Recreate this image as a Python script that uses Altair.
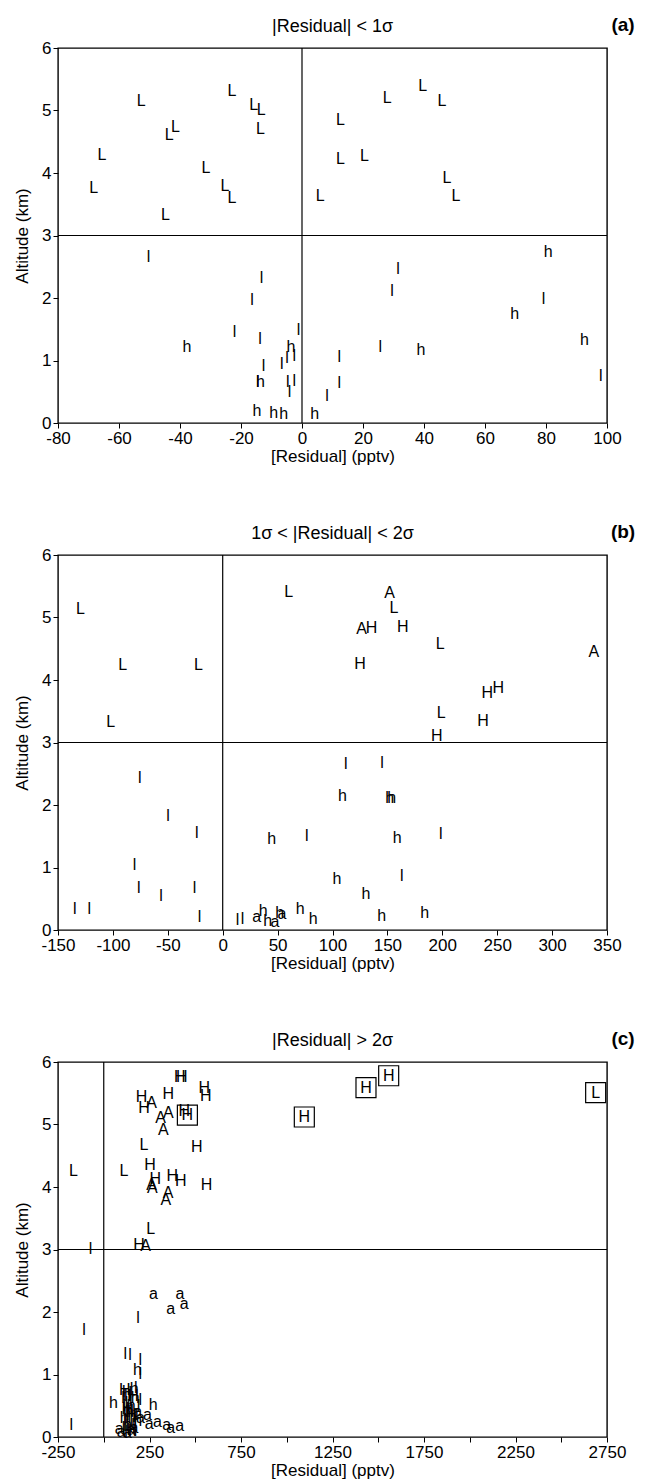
import altair as alt
import pandas as pd

FONT = "Liberation Sans"
W, H = 549, 375

# ---- panel (a): |Residual| < 1 sigma ----
a_letter = (["L"] * 22 + ["l"] * 22 + ["h"] * 11)
a_resid = [-52.7, -65.6, -68.3, -43.5, -41.5, -44.8, -31.5, -23.0, -15.8, -13.4, -13.6,
           -25.3, -23.0, 6.0, 27.9, 39.6, 45.9, 12.6, 12.6, 20.5, 47.5, 50.5,
           -50.3, -13.3, -16.4, -22.1, -13.8, -1.1, -2.5, -4.9, -6.6, -12.6, -14.5,
           -2.5, -4.7, -4.1, 8.2, 31.5, 29.5, 79.2, 25.7, 12.2, 12.2, 98.0,
           -37.7, -3.6, -13.6, -14.8, -9.3, -6.0, 4.2, 80.7, 69.7, 92.6, 39.0]
a_alt = [5.15, 4.29, 3.76, 4.61, 4.73, 3.33, 4.08, 5.32, 5.09, 5.01, 4.70,
         3.79, 3.60, 3.63, 5.20, 5.39, 5.15, 4.85, 4.23, 4.28, 3.92, 3.64,
         2.65, 2.32, 1.97, 1.46, 1.34, 1.49, 1.07, 1.04, 0.95, 0.91, 0.66,
         0.67, 0.65, 0.49, 0.43, 2.46, 2.12, 1.98, 1.21, 1.05, 0.64, 0.76,
         1.21, 1.21, 0.66, 0.19, 0.16, 0.15, 0.15, 2.74, 1.75, 1.33, 1.17]

# ---- panel (b): 1 sigma < |Residual| < 2 sigma ----
b_letter = (["L"] * 8 + ["A"] * 3 + ["H"] * 7 + ["l"] * 17 + ["h"] * 14 + ["a"] * 3)
b_resid = [-129.5, -91.0, -22.0, -102.0, 60.0, 156.0, 198.0, 199.0,
           152.0, 126.5, 338.0,
           135.6, 164.0, 125.0, 241.0, 251.0, 237.0, 195.0,
           -75.6, -49.8, -23.5, 76.5, -80.2, -76.5, -56.2, -25.6, -134.7, -121.4,
           -21.1, 13.5, 18.0, 112.0, 145.0, 198.6, 163.0,
           44.7, 37.0, 41.0, 52.0, 70.5, 82.5, 109.0, 152.0, 154.0, 159.0, 104.0,
           130.5, 144.7, 184.0,
           31.0, 47.7, 54.0]
b_alt = [5.14, 4.24, 4.24, 3.33, 5.41, 5.16, 4.57, 3.48,
         5.40, 4.82, 4.45,
         4.84, 4.85, 4.25, 3.79, 3.87, 3.35, 3.11,
         2.44, 1.82, 1.56, 1.51, 1.04, 0.67, 0.55, 0.68, 0.33, 0.33,
         0.21, 0.16, 0.18, 2.65, 2.68, 1.53, 0.86,
         1.46, 0.30, 0.14, 0.28, 0.34, 0.18, 2.15, 2.12, 2.12, 1.47, 0.81,
         0.57, 0.22, 0.28,
         0.21, 0.13, 0.26]

# ---- panel (c): |Residual| > 2 sigma ----
c_letter = (["L"] * 4 + ["H"] * 15 + ["A"] * 9 + ["l"] * 8 + ["a"] * 13 + ["h"] * 8
            + ["l"] * 27 + ["H"] * 4 + ["h"] * 4 + ["a"] * 4)
c_resid = [-166, 111, 220, 257,
           207, 220, 353, 415, 426, 549, 557, 440, 508, 253, 281, 375, 421, 561, 193,
           262, 353, 311, 326, 266, 262, 352, 339, 229,
           -72, 188, -108, 117, 144, 199, 199, -177,
           271, 417, 439, 366, 239, 248, 293, 344, 366, 415, 84, 150, 200,
           184, 53, 270, 166, 125, 150, 185, 130,
           110, 120, 125, 130, 115, 140, 150, 160, 135, 170, 180, 190, 200, 145, 175,
           105, 112, 118, 128, 138, 148, 155, 165, 172, 108, 122, 142,
           115, 160, 128, 150,
           112, 140, 172, 158,
           95, 130, 165, 185]
c_alt = [4.26, 4.26, 4.68, 3.33,
         5.44, 5.26, 5.49, 5.76, 5.76, 5.59, 5.46, 5.21, 4.64, 4.35, 4.13, 4.18, 4.10, 4.04, 3.08,
         5.35, 5.19, 5.10, 4.91, 3.98, 4.03, 3.90, 3.79, 3.06,
         3.01, 1.91, 1.72, 1.33, 1.31, 1.24, 1.01, 0.19,
         2.29, 2.29, 2.13, 2.05, 0.35, 0.21, 0.24, 0.20, 0.14, 0.17, 0.13, 0.12, 0.30,
         1.07, 0.55, 0.52, 0.77, 0.68, 0.50, 0.25, 0.20,
         0.72, 0.65, 0.55, 0.45, 0.38, 0.30, 0.25, 0.20, 0.12, 0.10, 0.35, 0.50, 0.60, 0.70, 0.78,
         0.62, 0.50, 0.28, 0.18, 0.40, 0.58, 0.42, 0.32, 0.22, 0.15, 0.08, 0.65,
         0.75, 0.65, 0.45, 0.35,
         0.30, 0.40, 0.62, 0.10,
         0.08, 0.06, 0.14, 0.40]

# boxed points in panel (c)
c_box_letter = ["H", "H", "H", "H", "L"]
c_box_resid = [457, 1096, 1433, 1557, 2688]
c_box_alt = [5.15, 5.12, 5.59, 5.78, 5.51]


def panel(letters, resid, alts, xmin, xmax, xstep, title, tag, label_expr, boxes=None):
    pts = pd.DataFrame({"letter": letters, "resid": resid, "alt": alts})
    xs = alt.Scale(domain=[xmin, xmax], nice=False, zero=False)
    ys = alt.Scale(domain=[0, 6], nice=False)
    xaxis = alt.Axis(values=list(range(xmin, xmax + 1, xstep)), labelExpr=label_expr,
                     title="[Residual] (pptv)", grid=False, labelFlush=False,
                     labelOverlap=False)
    yaxis = alt.Axis(values=[0, 1, 2, 3, 4, 5, 6], title="Altitude (km)", grid=False,
                     labelExpr="'' + datum.value")
    x = alt.X("resid:Q", scale=xs, axis=xaxis)
    y = alt.Y("alt:Q", scale=ys, axis=yaxis)

    one = pd.DataFrame({"k": [0]})
    hline = alt.Chart(one).mark_rule(color="black", strokeWidth=1.2).encode(
        y=alt.datum(3, scale=ys))
    vline = alt.Chart(one).mark_rule(color="black", strokeWidth=1.2).encode(
        x=alt.datum(0, scale=xs))
    text = alt.Chart(pts).mark_text(font=FONT, fontSize=16, align="center",
                                     baseline="middle", color="black").encode(
        x=x, y=y, text="letter:N")
    ttl = alt.Chart(one).mark_text(font=FONT, fontSize=18, align="center",
                                    baseline="middle", color="black").encode(
        x=alt.value(W / 2), y=alt.value(-21), text=alt.value(title))
    lab = alt.Chart(one).mark_text(font=FONT, fontSize=19, fontWeight="bold",
                                    align="center", baseline="middle", color="black").encode(
        x=alt.value(W + 16), y=alt.value(-23), text=alt.value(tag))
    layers = [text, hline, vline, ttl, lab]
    if boxes is not None:
        bdf = pd.DataFrame({"letter": boxes[0], "resid": boxes[1], "alt": boxes[2]})
        bx = alt.X("resid:Q", scale=xs)
        by = alt.Y("alt:Q", scale=ys)
        sq = alt.Chart(bdf).mark_point(shape="square", size=400, filled=False,
                                        color="black", strokeWidth=1.2, opacity=1).encode(
            x=bx, y=by)
        bt = alt.Chart(bdf).mark_text(font=FONT, fontSize=16, align="center",
                                       baseline="middle", color="black").encode(
            x=bx, y=by, text="letter:N")
        layers += [sq, bt]
    return alt.layer(*layers).properties(width=W, height=H)


pa = panel(a_letter, a_resid, a_alt, -80, 100, 20, "|Residual| < 1σ", "(a)",
           "'' + datum.value")
pb = panel(b_letter, b_resid, b_alt, -150, 350, 50, "1σ < |Residual| < 2σ", "(b)",
           "'' + datum.value")
pc = panel(c_letter, c_resid, c_alt, -250, 2750, 250, "|Residual| > 2σ", "(c)",
           "(datum.value + 250) % 500 == 0 ? '' + datum.value : ''",
           boxes=(c_box_letter, c_box_resid, c_box_alt))

chart = alt.vconcat(pa, pb, pc, spacing=57).configure(
    padding={"left": 12, "top": 15, "right": 0, "bottom": 0},
    font=FONT,
).configure_view(
    stroke="black", strokeWidth=1.4
).configure_axis(
    domain=False, tickColor="black", tickSize=5, tickWidth=1,
    labelFont=FONT, labelFontSize=17, labelColor="black", labelPadding=2,
    titleFont=FONT, titleFontSize=17, titleFontWeight="normal", titleColor="black",
).configure_axisX(titlePadding=2).configure_axisY(titlePadding=10)

chart.save("out.html", embed_options={"renderer": "svg", "actions": False})
